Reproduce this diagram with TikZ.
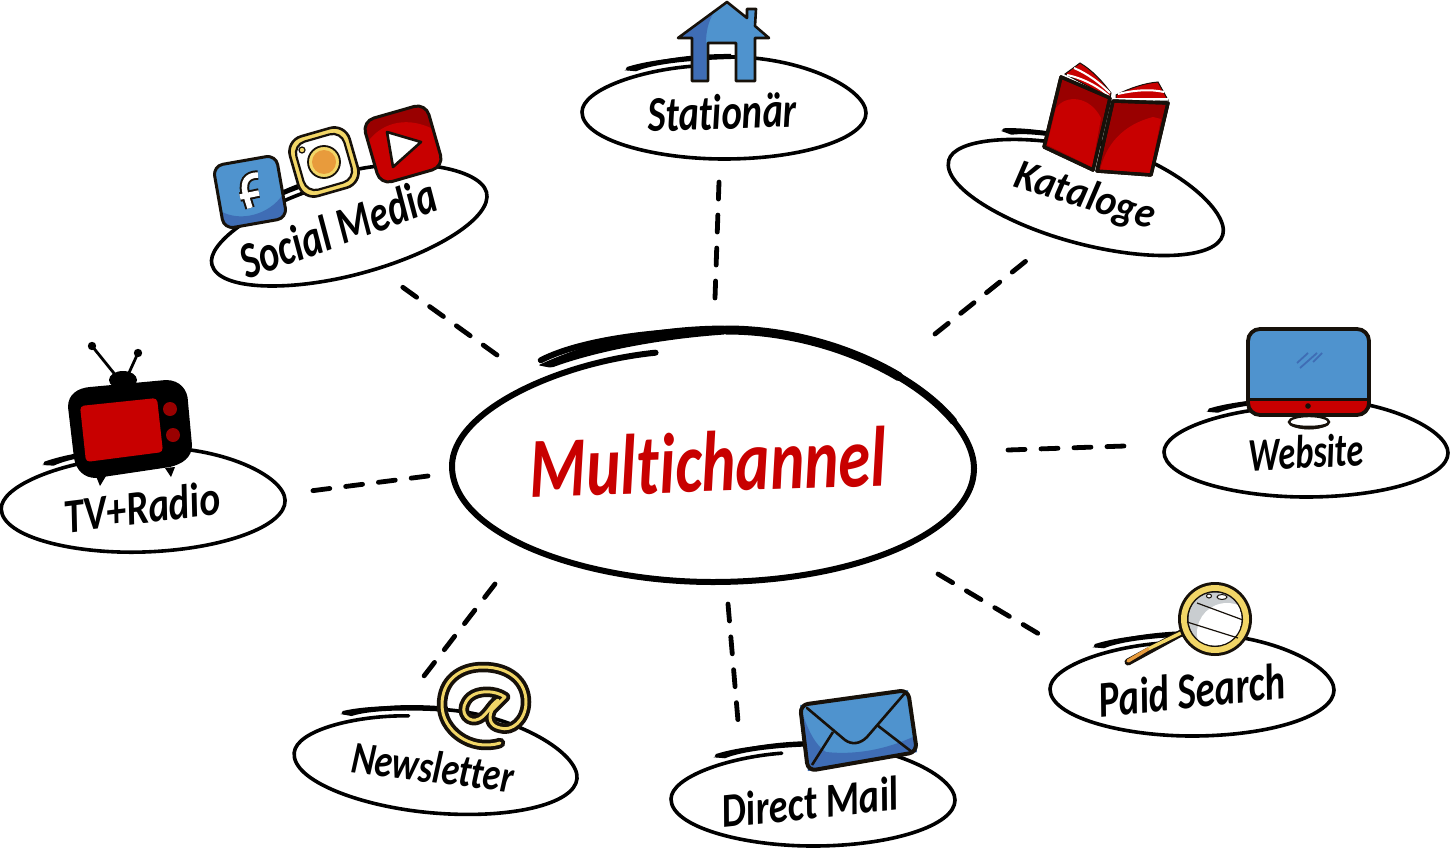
\documentclass[tikz,border=0pt]{standalone}
\usepackage{fontspec}
\usepackage{graphicx}
\setmainfont{Carlito}[Ligatures=NoCommon]
\definecolor{inkc}{HTML}{17110A}
\definecolor{bluec}{HTML}{4F93CE}
\definecolor{dblue}{HTML}{3F6DB5}
\definecolor{redc}{HTML}{C80000}
\definecolor{dred}{HTML}{990000}
\definecolor{yelc}{HTML}{F2D667}
\definecolor{orac}{HTML}{E89B3C}
\definecolor{greyc}{HTML}{C9CDD0}
\newcommand{\hand}[3]{\resizebox{#1pt}{#2pt}{\bfseries\itshape #3}}
\newcommand{\spiral}[6]{%
 \begin{scope}[shift={(#1,#2)},rotate=#5,xscale=#3,yscale=#4]
 \draw[line width=#6pt,line cap=round,line join=round,black]
  (-0.22,-0.82) .. controls (-0.6,-0.74) and (-1,-0.35) .. (-1,0.08)
  .. controls (-1,0.62) and (-0.5,1) .. (0,1)
  .. controls (0.55,1) and (1,0.6) .. (1,0.1)
  .. controls (1,-0.38) and (0.55,-1) .. (0.05,-1)
  .. controls (-0.2,-1) and (-0.5,-0.93) .. (-0.68,-0.77);
 \fill[black] (-0.7,-0.74) .. controls (-0.5,-0.95) and (-0.25,-1.06) .. (0.05,-1.06)
  -- (0.05,-0.96) .. controls (-0.25,-0.94) and (-0.5,-0.86) .. (-0.62,-0.72) -- cycle;
 \end{scope}}
\tikzset{
 lbl/.style={inner sep=0pt,outer sep=0pt,text=black},
 hublbl/.style={inner sep=0pt,outer sep=0pt,text=redc},
 dashcon/.style={draw=black,line width=4.8pt,line cap=round,dash pattern=on 17pt off 16pt},
 ic/.style={draw=inkc,line width=2.6pt,line join=round}
}
\begin{document}
\begin{tikzpicture}[x=1pt,y=-1pt]
\fill[white] (0,0) rectangle (1450,848);
\useasboundingbox (0,0) rectangle (1450,848);

% outlines
\begin{scope}[shift={(713,456)},xscale=261,yscale=126]
\draw[black,line width=6pt,line cap=round,line join=round]
  (-0.22,-0.82) .. controls (-0.6,-0.74) and (-1,-0.35) .. (-1,0.08)
  .. controls (-1,0.62) and (-0.5,1) .. (0,1)
  .. controls (0.55,1) and (1,0.6) .. (1,0.1)
  .. controls (1,-0.38) and (0.55,-1) .. (0.05,-1)
  .. controls (-0.2,-1) and (-0.5,-0.93) .. (-0.66,-0.76);
\draw[black,line width=7.4pt,line cap=round] (0.05,-1) .. controls (0.425,-1) and (0.772,-0.651) .. (0.922,-0.275);
\draw[black,line width=9pt,line cap=round] (0.05,-1) .. controls (0.3,-1) and (0.5375,-0.845) .. (0.712,-0.63);
\fill[black,rounded corners=2pt] (-0.67,-0.72) .. controls (-0.45,-0.93) and (-0.2,-1.035) .. (0.05,-1.035)
 -- (0.05,-0.965) .. controls (-0.2,-0.93) and (-0.45,-0.83) .. (-0.62,-0.7) -- cycle;
\end{scope}
\spiral{724}{108}{142}{51}{0}{3.6}
\spiral{1087}{193}{142}{51}{-15}{3.6}
\spiral{1306}{448}{142}{49}{0}{3.6}
\spiral{1192}{685}{142}{51}{0}{3.6}
\spiral{813}{795}{142}{51}{0}{3.6}
\spiral{436}{761}{142}{52}{-5}{3.6}
\spiral{143}{500}{142}{52}{2}{3.6}
\spiral{348}{224}{142}{51}{15}{3.6}

% labels
\node[hublbl,rotate=2] (hub) at (708,462) {\hand{357}{60}{Multichannel}};
\node[lbl,rotate=2] (stat) at (722,112) {\hand{149}{35}{Stationär}};
\node[lbl,rotate=-17] (kat) at (1085,197) {\hand{145}{30}{Kataloge}};
\node[lbl,rotate=3] (web) at (1306,452) {\hand{115}{33}{Website}};
\node[lbl,rotate=6] (paid) at (1192,690) {\hand{187}{36}{Paid Search}};
\node[lbl,rotate=6] (dm) at (810,802) {\hand{177}{34}{Direct Mail}};
\node[lbl,rotate=-7] (nl) at (433,767) {\hand{163}{32}{Newsletter}};
\node[lbl,rotate=7] (tv) at (142,507) {\hand{157}{34}{TV+Radio}};
\node[lbl,rotate=20] (soc) at (338,228) {\hand{205}{36}{Social Media}};

% connectors
\draw[dashcon] ([shift={(7,-164)}]hub.center) -- ([shift={(-3,70)}]stat.center);
\draw[dashcon] ([shift={(227,-128)}]hub.center) -- ([shift={(-59,64)}]kat.center);
\draw[dashcon] ([shift={(300,-12)}]hub.center) -- ([shift={(-181,-6)}]web.center);
\draw[dashcon] ([shift={(230,112)}]hub.center) -- ([shift={(-153,-56)}]paid.center);
\draw[dashcon] ([shift={(20,142)}]hub.center) -- ([shift={(-72,-81)}]dm.center);
\draw[dashcon] ([shift={(-213,122)}]hub.center) -- ([shift={(-9,-91)}]nl.center);
\draw[dashcon] ([shift={(-280,14)}]hub.center) -- ([shift={(168,-16)}]tv.center);
\draw[dashcon] ([shift={(-211,-107)}]hub.center) -- ([shift={(63,58)}]soc.center);

% house
\path[ic,fill=bluec,draw=none] (727,2) -- (747,18) -- (747,9) -- (756,9) -- (755,26) -- (769,38) -- (755,38) -- (755,81) -- (736,81) -- (736,43) -- (708,43) -- (708,81) -- (692,81) -- (692,38) -- (678,38) -- cycle;
\fill[dblue] (679,37) -- (714,12) .. controls (708,22) and (706,32) .. (706,43) -- (706,81) -- (692,81) -- (692,38) -- cycle;
\draw[ic] (727,2) -- (747,18) -- (747,9) -- (756,9) -- (755,26) -- (769,38) -- (755,38) -- (755,81) -- (736,81) -- (736,43) -- (708,43) -- (708,81) -- (692,81) -- (692,38) -- (678,38) -- cycle;

% book
\fill[redc,draw=inkc,line width=1pt] (1065,74) -- (1080,63) .. controls (1092,70) and (1103,82) .. (1111,93) -- (1110,98) -- cycle;
\draw[white,line width=2pt] (1067,75) .. controls (1082,78) and (1098,86) .. (1109,96);
\draw[white,line width=2pt] (1074,68) .. controls (1088,74) and (1100,83) .. (1110,93);
\fill[redc,draw=inkc,line width=1pt] (1116,95) .. controls (1130,88) and (1145,83) .. (1158,82) -- (1168,100) -- (1116,99) -- cycle;
\draw[white,line width=2pt] (1118,94) .. controls (1135,90) and (1150,89) .. (1164,92);
\draw[white,line width=2pt] (1115,99) -- (1168,99);
\draw[inkc,line width=3.4pt,fill=dred,line join=round] (1061,77) -- (1110,98) -- (1093,170) -- (1044,147) -- cycle;
\fill[redc] (1047,145) -- (1056,108) .. controls (1066,94) and (1090,96) .. (1101,118) -- (1092,167) -- cycle;
\draw[inkc,line width=3.4pt,line join=round] (1061,77) -- (1110,98) -- (1093,170) -- (1044,147) -- cycle;
\draw[inkc,line width=3.4pt,fill=dred,line join=round] (1113,101) -- (1168,103) -- (1151,175) -- (1097,171) -- cycle;
\fill[redc] (1100,170) .. controls (1106,145) and (1122,125) .. (1153,117) -- (1161,119) -- (1150,173) -- cycle;
\draw[inkc,line width=3.4pt,line join=round] (1113,101) -- (1168,103) -- (1151,175) -- (1097,171) -- cycle;

% monitor
\fill[white,draw=inkc,line width=1.5pt] (1299,412) rectangle (1318,421);
\draw[fill=white,draw=inkc,line width=2.4pt] (1309,422) ellipse (20 and 6);
\fill[inkc] (1289,422) .. controls (1293,432) and (1325,432) .. (1329,422) .. controls (1322,427) and (1296,427) .. cycle;
\begin{scope}
\clip[rounded corners=12pt] (1248,329) rectangle (1369,415);
\fill[bluec] (1248,329) rectangle (1369,399);
\fill[redc] (1248,399) rectangle (1369,415);
\end{scope}
\draw[inkc,line width=3.8pt,rounded corners=12pt] (1248,329) rectangle (1369,415);
\draw[inkc,line width=3pt] (1248,399) -- (1369,399);
\fill[inkc] (1308,406) circle (2.8);
\draw[dblue,line width=1.8pt] (1297,363) -- (1308,353) (1300,368) -- (1317,353) (1313,362) -- (1322,353);

% magnifier
\draw[inkc,line width=7pt,line cap=round] (1183,632) -- (1128,662);
\draw[yelc,line width=3.4pt] (1185,631) -- (1148,649);
\draw[orac,line width=3.4pt,line cap=round] (1148,649) -- (1128,661);
\fill[inkc] (1215,619) circle (37);
\fill[yelc] (1215,619) circle (34);
\fill[inkc] (1215,619) circle (28);
\begin{scope}
\clip (1215,619) circle (26.5);
\fill[greyc] (1215,619) circle (27);
\fill[white] (1227,633) circle (30);
\end{scope}
\draw[inkc,line width=1.2pt] (1197,603) -- (1243,620) (1187,622) -- (1238,638);
\draw[inkc,fill=white,line width=1pt] (1209,596) ellipse (2.5 and 2) (1222,597) ellipse (5 and 2.5);

% envelope
\fill[bluec] (800,705) -- (908,690) -- (917,752) -- (808,771) -- cycle;
\fill[dblue] (802,712) .. controls (808,730) and (815,745) .. (826,752) .. controls (855,755) and (885,750) .. (915,736) -- (917,752) -- (808,771) -- cycle;
\draw[inkc,line width=4pt,rounded corners=8pt,line join=round] (800,705) -- (908,690) -- (917,752) -- (808,771) -- cycle;
\draw[inkc,line width=2.6pt,line cap=round] (807,708) -- (845,740) .. controls (852,745) and (860,744) .. (867,737) -- (905,693);
\draw[inkc,line width=2.6pt] (833,732) -- (812,765) (877,725) -- (912,752);

% at sign
\foreach \wd/\cl in {10.5/inkc,3/yelc}{
 \draw[\cl,line width=\wd pt,line cap=round,line join=round]
  (500,743) .. controls (470,752) and (442,730) .. (442,705)
  .. controls (442,680) and (460,667) .. (483,667)
  .. controls (510,667) and (526,682) .. (526,702)
  .. controls (526,720) and (512,732) .. (500,728)
  .. controls (490,726) and (488,718) .. (492,710)
  -- (505,697) .. controls (495,690) and (478,690) .. (470,697)
  .. controls (458,708) and (465,722) .. (476,720)
  .. controls (486,718) and (490,705) .. (498,700);
}

% tv
\draw[black,line width=2.8pt] (92,346) -- (117,377) (138,353) -- (128,375);
\fill[black] (92,346) circle (4.2) (138,353) circle (4.2);
\fill[black] (123,380) ellipse (14 and 9);
\fill[black] (96,476) -- (106,476) -- (100,486) -- cycle (165,468) -- (175,467) -- (171,477) -- cycle;
\fill[black] (68,407) .. controls (68,394) and (78,388) .. (90,387) -- (166,380)
 .. controls (180,380) and (188,390) .. (188,402) -- (192,445)
 .. controls (192,458) and (182,464) .. (170,467) -- (96,478)
 .. controls (84,478) and (76,470) .. (74,458) -- cycle;
\fill[redc,rounded corners=4pt] (80,406) -- (157,398) -- (163,452) -- (86,462) -- cycle;
\fill[dred] (170,409) circle (7) (173,435) circle (7);

% social icons
\begin{scope}[shift={(250,192)},rotate=10]
\begin{scope}
\clip[rounded corners=10pt] (-32,-32) rectangle (32,32);
\fill[bluec] (-32,-32) rectangle (32,32);
\fill[dblue] (-32,14) .. controls (-15,28) and (15,26) .. (32,8) -- (32,32) -- (-32,32) -- cycle;
\end{scope}
\draw[inkc,line width=3pt,rounded corners=10pt] (-32,-32) rectangle (32,32);
\end{scope}
\foreach \wd/\cl in {9.5/inkc,5.5/white}{
 \draw[\cl,line width=\wd pt] (258,175) .. controls (246,175) and (243,183) .. (245,192) -- (250,208) (240,197) -- (259,193);
}
\begin{scope}[shift={(324,162)},rotate=16]
\draw[inkc,fill=yelc,line width=2.6pt,rounded corners=16pt] (-31,-31) rectangle (31,31);
\draw[inkc,fill=white,line width=2.2pt,rounded corners=12pt] (-25,-25) rectangle (25,25);
\end{scope}
\draw[inkc,fill=yelc,line width=1.8pt] (324,162) circle (16);
\fill[orac] (324,162) circle (12);
\draw[inkc,fill=yelc,line width=1.2pt] (302,150) circle (3);
\begin{scope}[shift={(403,144)},rotate=16]
\begin{scope}
\clip[rounded corners=12pt] (-33,-33) rectangle (33,33);
\fill[dred] (-33,-33) rectangle (33,33);
\fill[redc] (-33,-12) .. controls (-12,-28) and (14,-24) .. (33,-6) -- (33,33) -- (-33,33) -- cycle;
\end{scope}
\draw[inkc,line width=3pt,rounded corners=12pt] (-33,-33) rectangle (33,33);
\end{scope}
\draw[inkc,fill=white,line width=2.6pt,line join=round] (387,132) -- (421,142) -- (393,167) -- cycle;
\end{tikzpicture}
\end{document}
